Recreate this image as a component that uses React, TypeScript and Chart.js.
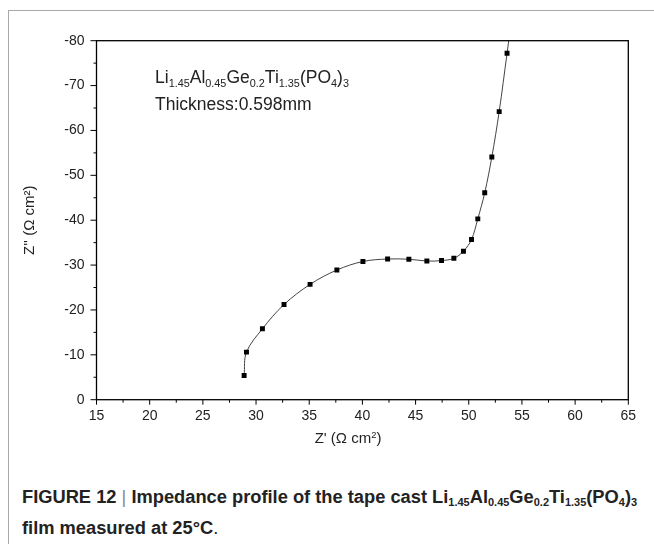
import React, { useEffect, useRef } from "react";
import { Chart, registerables } from "chart.js";

Chart.register(...registerables);

// Z' (real part, Ω cm²)
const zReal = [28.88, 29.1, 30.6, 32.63, 35.08, 37.6, 40.05, 42.37, 44.37, 46.06, 47.44, 48.6, 49.5, 50.26, 50.85, 51.5, 52.17, 52.86, 53.6, 54.1];
// Z'' (imaginary part, Ω cm²)
const zImag = [-5.4, -10.6, -15.8, -21.2, -25.7, -28.9, -30.8, -31.35, -31.3, -30.9, -31.0, -31.5, -33.1, -35.7, -40.3, -46.1, -54.1, -64.2, -77.2, -86];

const xMajorTicks = [15, 20, 25, 30, 35, 40, 45, 50, 55, 60, 65];
const yMajorTicks = [-80, -70, -60, -50, -40, -30, -20, -10, 0];

const FONT = "'Liberation Sans', Arial, Helvetica, sans-serif";

const framePlugin = {
  id: "frameTicks",
  afterDraw(chart: any) {
    const { ctx, chartArea: a, scales } = chart;
    ctx.save();
    ctx.strokeStyle = "#000";
    ctx.lineWidth = 1.3;
    ctx.strokeRect(a.left, a.top, a.right - a.left, a.bottom - a.top);
    ctx.lineWidth = 1;
    const xs = scales.x;
    xs.ticks.forEach((t: any) => {
      const p = xs.getPixelForValue(t.value);
      const len = xMajorTicks.includes(t.value) ? 5 : 3;
      ctx.beginPath();
      ctx.moveTo(p, a.bottom);
      ctx.lineTo(p, a.bottom + len);
      ctx.stroke();
    });
    const ys = scales.y;
    ys.ticks.forEach((t: any) => {
      const p = ys.getPixelForValue(t.value);
      const len = yMajorTicks.includes(t.value) ? 6 : 3;
      ctx.beginPath();
      ctx.moveTo(a.left, p);
      ctx.lineTo(a.left - len, p);
      ctx.stroke();
    });
    ctx.restore();
  },
};

function ImpedanceChart() {
  const ref = useRef<HTMLCanvasElement | null>(null);
  useEffect(() => {
    if (!ref.current) return;
    const chart = new Chart(ref.current, {
      type: "line",
      data: {
        datasets: [
          {
            data: zReal.map((x, i) => ({ x, y: zImag[i] })),
            borderColor: "#444",
            borderWidth: 1,
            tension: 0.35,
            pointStyle: "rect",
            pointRadius: 3.5,
            pointBackgroundColor: "#000",
            pointBorderColor: "#000",
            pointBorderWidth: 0,
            fill: false,
          },
        ],
      },
      options: {
        animation: false,
        responsive: true,
        maintainAspectRatio: false,
        layout: { padding: { top: 40.7, right: 25.7, left: 0, bottom: 0 } },
        plugins: { legend: { display: false }, tooltip: { enabled: false } },
        scales: {
          x: {
            type: "linear",
            min: 15,
            max: 65,
            grid: { display: false, drawTicks: false },
            border: { display: false },
            ticks: {
              stepSize: 2.5,
              autoSkip: false,
              maxRotation: 0,
              padding: 8,
              color: "#222",
              font: { family: FONT, size: 14 },
              callback: (v: any) => (xMajorTicks.includes(Number(v)) ? String(v) : ""),
            },
            title: { display: false },
            afterFit: (s: any) => {
              s.height = 60.3;
            },
          },
          y: {
            type: "linear",
            min: -80,
            max: 0,
            reverse: true,
            grid: { display: false, drawTicks: false },
            border: { display: false },
            ticks: {
              stepSize: 5,
              autoSkip: false,
              padding: 12,
              color: "#222",
              font: { family: FONT, size: 14 },
              callback: (v: any) => (yMajorTicks.includes(Number(v)) ? String(v) : ""),
            },
            title: {
              display: true,
              text: "Z'' (\u03A9 cm\u00B2)",
              color: "#222",
              font: { family: FONT, size: 15 },
              padding: { top: 21, bottom: 0 },
            },
            afterFit: (s: any) => {
              s.width = 96.5;
            },
          },
        },
      },
      plugins: [framePlugin],
    });
    return () => chart.destroy();
  }, []);
  return <canvas ref={ref} />;
}

export default function App() {
  const sub: React.CSSProperties = { fontSize: "0.62em", verticalAlign: "-0.35em" };
  const capSub: React.CSSProperties = { fontSize: "0.6em", verticalAlign: "-0.3em" };
  return (
    <div style={{ position: "absolute", left: 0, top: 0, width: 654, height: 544, background: "#fff", overflow: "hidden" }}>
      <div style={{ position: "absolute", left: 8, top: 10, width: 646, height: 534, borderTop: "1px solid #a8a8a8", borderLeft: "1px solid #a8a8a8" }} />
      <div style={{ position: "absolute", left: 0, top: 0, width: 654, height: 460 }}>
        <ImpedanceChart />
      </div>
      <div style={{ position: "absolute", left: 248, top: 428, width: 200, textAlign: "center", fontFamily: FONT, fontSize: 15, color: "#222", lineHeight: "20px", whiteSpace: "nowrap" }}>
        Z' (Ω cm<sup style={{ fontSize: "0.62em", verticalAlign: "0.55em", lineHeight: 0 }}>2</sup>)
      </div>
      <div style={{ position: "absolute", left: 155, top: 67, fontFamily: FONT, fontSize: 17.5, color: "#222", lineHeight: "20px", whiteSpace: "nowrap" }}>
        Li<span style={sub}>1.45</span>Al<span style={sub}>0.45</span>Ge<span style={sub}>0.2</span>Ti<span style={sub}>1.35</span>(PO<span style={sub}>4</span>)<span style={sub}>3</span>
      </div>
      <div style={{ position: "absolute", left: 155, top: 94, fontFamily: FONT, fontSize: 17.5, color: "#222", lineHeight: "20px", whiteSpace: "nowrap" }}>
        Thickness:0.598mm
      </div>
      <div style={{ position: "absolute", left: 22, top: 484, width: 632, fontFamily: "'Liberation Sans Narrow', 'Arial Narrow', " + FONT, fontWeight: "bold", fontSize: 18.3, color: "#222", lineHeight: "25px" }}>
        <div style={{ whiteSpace: "nowrap" }}>
          FIGURE 12 <span style={{ color: "#888", fontWeight: "normal" }}>|</span> Impedance profile of the tape cast Li<span style={capSub}>1.45</span>Al<span style={capSub}>0.45</span>Ge<span style={capSub}>0.2</span>Ti<span style={capSub}>1.35</span>(PO<span style={capSub}>4</span>)<span style={capSub}>3</span>
        </div>
        <div style={{ whiteSpace: "nowrap" }}>
          film measured at 25°C<span style={{ fontWeight: "normal" }}>.</span>
        </div>
      </div>
    </div>
  );
}
